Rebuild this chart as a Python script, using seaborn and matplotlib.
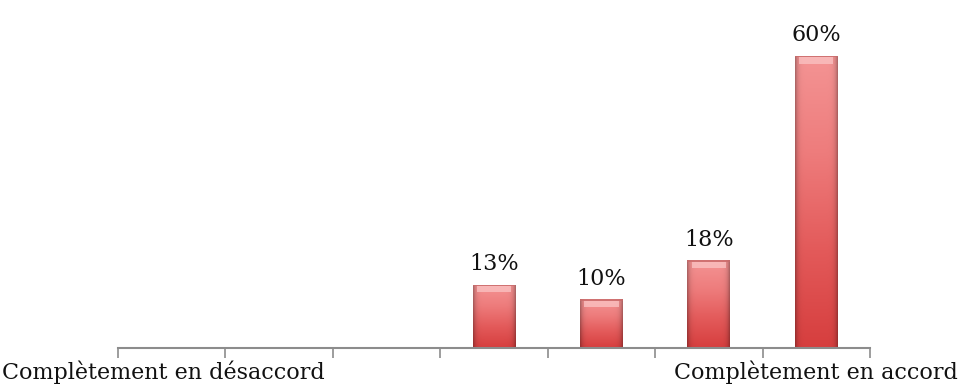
import numpy as np
import pandas as pd
import matplotlib
matplotlib.use("Agg")
import matplotlib.pyplot as plt
import seaborn as sns
from matplotlib.colors import LinearSegmentedColormap

categories = ["1", "2", "3", "4", "5", "6", "7"]
values = [0, 0, 0, 13, 10, 18, 60]
value_labels = ["", "", "", "13%", "10%", "18%", "60%"]
left_label = "Complètement en désaccord"
right_label = "Complètement en accord"

sns.set_theme(style="white")
plt.rcParams['font.family'] = ['DejaVu Serif']

df = pd.DataFrame({"cat": categories, "val": values})

fig = plt.figure(figsize=(9.64, 3.90), dpi=100)
ax = fig.add_axes([118/964, 1-348/390, (870-118)/964, (348-7)/390])
sns.barplot(data=df, x="cat", y="val", ax=ax, width=0.4, color="#E05050", edgecolor="none")
ax.set_ylim(0, 70)
ax.set_xlim(-0.5, len(categories)-0.5)

cmap = LinearSegmentedColormap.from_list("g", ["#D63E3E", "#E35A5A", "#EE7C7C", "#F49494"])
for p in ax.patches:
    x0, y0, w, h = p.get_x(), p.get_y(), p.get_width(), p.get_height()
    if h <= 0:
        continue
    p.set_facecolor("none")
    grad = np.linspace(0, 1, 256).reshape(-1, 1)
    vert = cmap(grad)[:, :, :3]
    hor = np.linspace(-1, 1, 64)
    shade = 1 - 0.30 * np.abs(hor) ** 8
    img = vert * shade[None, :, None]
    im = ax.imshow(img, extent=[x0, x0+w, y0, y0+h], origin="lower", aspect="auto", zorder=2)
    im.set_clip_path(p)
    # top bevel highlight
    ax.fill_between([x0+w*0.1, x0+w*0.9], y0+h-1.6, y0+h-0.3, color="#FBC4C4", alpha=0.75, zorder=3, linewidth=0)
    ax.fill_between([x0, x0+w], y0+h-0.3, y0+h, color="#C86A6A", alpha=0.8, zorder=3, linewidth=0)

for i, (v, lab) in enumerate(zip(values, value_labels)):
    if lab:
        ax.annotate(lab, (i, v), xytext=(0, 7), textcoords="offset points",
                    ha="center", va="bottom", fontsize=16, color="#111111")

ax.set_xlabel("")
ax.set_ylabel("")
ax.set_yticks([])
ax.set_xticks(np.arange(-0.5, len(categories)), labels=[])
ax.tick_params(axis="x", direction="out", length=7, width=1.2, color="#8C8C8C", bottom=True)
for s in ["top", "right", "left"]:
    ax.spines[s].set_visible(False)
ax.spines["bottom"].set_color("#8C8C8C")
ax.spines["bottom"].set_linewidth(1.5)

fig.text(2/964, 1-372/390, left_label, ha="left", va="center", fontsize=16, color="#111111")
fig.text(958/964, 1-372/390, right_label, ha="right", va="center", fontsize=16, color="#111111")

fig.savefig("out.png", dpi=100)
